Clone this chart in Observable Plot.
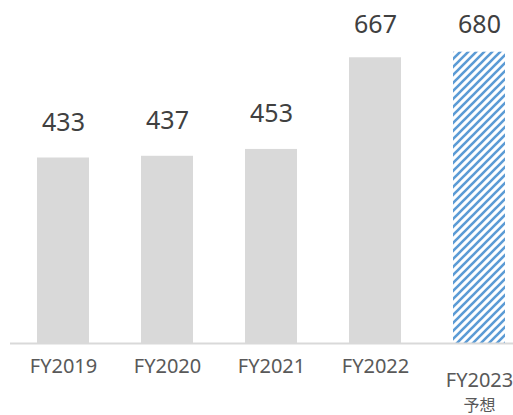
<!DOCTYPE html>
<html>
<head>
<meta charset="utf-8">
<script src="https://cdn.jsdelivr.net/npm/d3@7"></script>
<script src="https://cdn.jsdelivr.net/npm/@observablehq/plot@0.6"></script>
<style>
  html, body { margin: 0; padding: 0; background: #fff; overflow: hidden; }
  #chart svg { display: block; }
</style>
</head>
<body>
<div id="chart"></div>
<script>
const categories = ["FY2019", "FY2020", "FY2021", "FY2022", "FY2023"];
const values = [433, 437, 453, 667, 680];
const forecast = [false, false, false, false, true];
const notes = ["", "", "", "", "予想"];

const data = categories.map((c, i) => ({cat: c, value: values[i], forecast: forecast[i], note: notes[i]}));

const font = "'Noto Sans', 'Noto Sans CJK JP', sans-serif";
const yMax = d3.max(values);
const labelCap = 661; // labels stay inside the plot area near the top

const plot = Plot.plot({
  width: 513,
  height: 415,
  marginLeft: 10,
  marginRight: 0,
  marginTop: 0,
  marginBottom: 72,
  style: {fontFamily: font, background: "#fff", overflow: "hidden"},
  x: {domain: categories, range: [10, 531], paddingInner: 0.5, paddingOuter: 0.25, axis: null},
  y: {domain: [0, yMax], range: [343, 51.7], axis: null},
  marks: [
    Plot.barY(data.filter(d => !d.forecast), {x: "cat", y: "value", fill: "#d9d9d9"}),
    Plot.barY(data.filter(d => d.forecast), {x: "cat", y: "value", fill: "url(#hatch)", className: "hatched"}),
    Plot.ruleY([0], {stroke: "#d9d9d9", strokeWidth: 2}),
    Plot.text(data, {
      x: "cat", y: d => Math.min(d.value, labelCap), text: d => String(d.value),
      dy: -27, lineAnchor: "bottom", fontSize: 25, fill: "#404040"
    }),
    Plot.text(data.filter(d => !d.forecast), {
      x: "cat", y: () => 0, text: "cat", dy: 29.7, lineAnchor: "bottom", fontSize: 20, fill: "#595959"
    }),
    Plot.text(data.filter(d => d.forecast), {
      x: "cat", y: () => 0, text: "cat", dy: 43, lineAnchor: "bottom", fontSize: 20, fill: "#595959"
    }),
    Plot.text(data.filter(d => d.note), {
      x: "cat", y: () => 0, text: "note", dy: 67, lineAnchor: "bottom", fontSize: 16, fill: "#595959"
    })
  ]
});

const svg = d3.select(plot);
const defs = svg.insert("defs", ":first-child");
const pat = defs.append("pattern")
  .attr("id", "hatch")
  .attr("patternUnits", "userSpaceOnUse")
  .attr("width", 8).attr("height", 8);
pat.append("rect").attr("width", 8).attr("height", 8).attr("fill", "#fff");
pat.append("path")
  .attr("d", "M0,8 L8,0 M-2,2 L2,-2 M6,10 L10,6")
  .attr("stroke", "#5b9bd5").attr("stroke-width", 2.6);
svg.selectAll(".hatched rect").attr("fill", "url(#hatch)");

document.getElementById("chart").appendChild(plot);
</script>
</body>
</html>
